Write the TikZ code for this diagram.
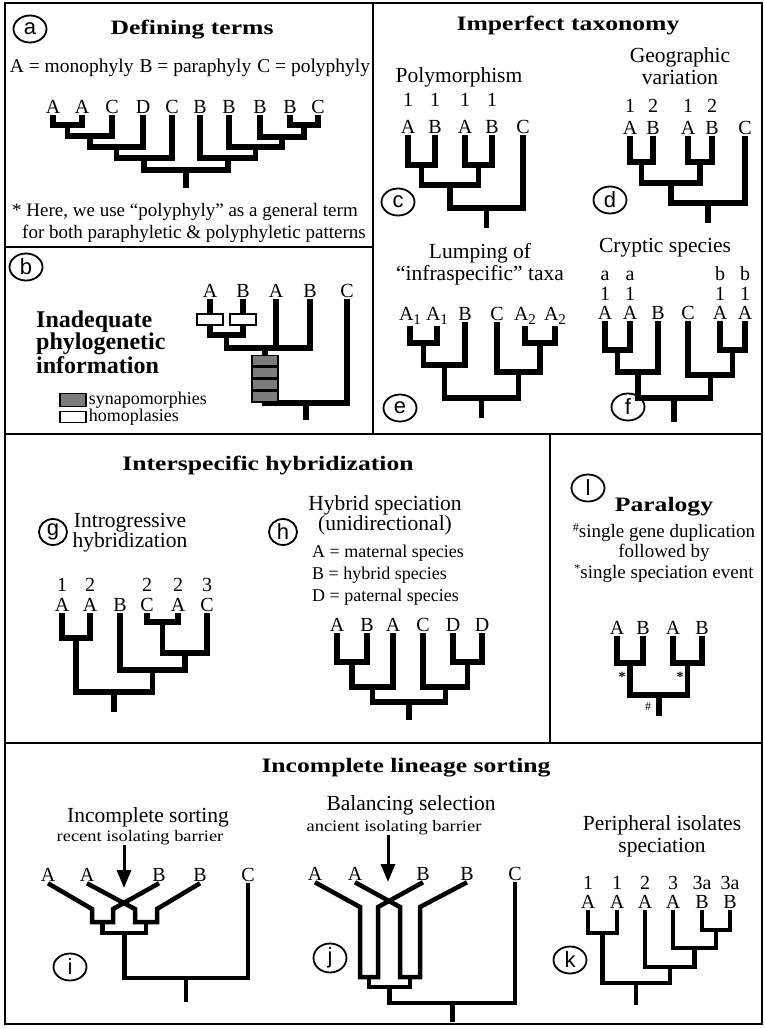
\documentclass[tikz,border=0pt]{standalone}
\usepackage{fontspec}
\setmainfont{Liberation Serif}
\setsansfont{Liberation Sans}
\usepackage{graphicx}
\usepackage{xcolor}
\usetikzlibrary{shapes.geometric, arrows.meta, positioning, calc}
\definecolor{syngray}{HTML}{7C7C7C}

\newcommand{\widen}[1]{\scalebox{1.25}[1]{#1}}
\newcommand{\lowidx}[1]{\raisebox{-4pt}{\fontsize{15}{15}\selectfont #1}}
\newcommand{\upmark}[1]{\raisebox{6pt}{\fontsize{12}{12}\selectfont #1}}

\tikzset{
  frame/.style={line width=2.2pt},
  branch/.style={line width=5.5pt},
  thinbranch/.style={line width=4.5pt},
  leaf/.style={inner sep=1.5pt, font=\fontsize{20}{22}\selectfont},
  ttl/.style={inner sep=0pt, font=\bfseries\fontsize{20.5}{22}\selectfont},
  hdr/.style={inner sep=0pt, align=center, font=\fontsize{21.5}{22}\selectfont},
  note/.style={inner sep=0pt, font=\fontsize{19}{21}\selectfont},
  plet/.style={ellipse, draw, line width=1.8pt, minimum width=33pt, minimum height=27pt, inner sep=0pt, font=\sffamily\fontsize{22}{22}\selectfont},
  homo/.style={draw, fill=white, line width=1.5pt, minimum width=26pt, minimum height=11pt, inner sep=0pt},
  syn/.style={draw, fill=syngray, line width=1.5pt, minimum width=26pt, minimum height=10.5pt, inner sep=0pt},
  barrier/.style={line width=3pt, -{Triangle[length=18pt, width=14pt]}},
  evt/.style={inner sep=0pt, font=\bfseries\fontsize{14}{14}\selectfont}
}

\begin{document}
\begin{tikzpicture}[x=1pt, y=-1pt]
\useasboundingbox (0,0) rectangle (764,1029);
% panel frames
\draw[frame] (5,3) rectangle (762,1024);
\draw[frame] (373,3) -- (373,434);
\draw[frame] (5,247) -- (373,247);
\draw[frame] (5,434) -- (762,434);
\draw[frame] (550,434) -- (550,743);
\draw[frame] (5,743) -- (762,743);

% (a) defining terms
\node[plet] (pa) at (30,29) {a};
\node[ttl] (tta) at (192,30) {\widen{Defining terms}};
\node[note, font=\fontsize{19.5}{22}\selectfont] (defs) at (190,68) {A = monophyly\hspace{6pt}B = paraphyly\hspace{6pt}C = polyphyly};
\node[leaf] (a1) at (53,107) {A};
\node[leaf] (a2) at (82,107) {A};
\node[leaf] (a3) at (112,107) {C};
\node[leaf] (a4) at (143,107) {D};
\node[leaf] (a5) at (172,107) {C};
\node[leaf] (a6) at (200,107) {B};
\node[leaf] (a7) at (229,107) {B};
\node[leaf] (a8) at (260,107) {B};
\node[leaf] (a9) at (290,107) {B};
\node[leaf] (a10) at (318,107) {C};
\coordinate (na1) at (67.5,125);
\coordinate (na2) at (90,136);
\coordinate (na3) at (116.5,147);
\coordinate (na4) at (144,158);
\coordinate (na5) at (304,125);
\coordinate (na6) at (282,137);
\coordinate (na7) at (255.5,147);
\coordinate (na8) at (228,158);
\coordinate (na9) at (186,170);
\coordinate (ra) at (186,188);
\draw[branch] (a1.south) |- (na1) -| (a2.south);
\draw[branch] (na1) |- (na2) -| (a3.south);
\draw[branch] (na2) |- (na3) -| (a4.south);
\draw[branch] (na3) |- (na4) -| (a5.south);
\draw[branch] (a9.south) |- (na5) -| (a10.south);
\draw[branch] (na5) |- (na6) -| (a8.south);
\draw[branch] (na6) |- (na7) -| (a7.south);
\draw[branch] (na7) |- (na8) -| (a6.south);
\draw[branch] (na4) |- (na9) -| (na8);
\draw[branch] (na9) -- (ra);
\node[note, anchor=west] (fna) at (12,212) {* Here, we use “polyphyly” as a general term};
\node[note, anchor=west] (fnb) at (22,234) {for both paraphyletic \& polyphyletic patterns};

% (b) inadequate information
\node[plet] (pb) at (26,267) {b};
\node[anchor=west, align=left, inner sep=0pt, font=\bfseries\fontsize{24}{21.7}\selectfont] (binfo) at (36,342) {Inadequate\\phylogenetic\\information};
\node[leaf] (b1) at (210,291) {A};
\node[leaf] (b2) at (243,291) {B};
\node[leaf] (b3) at (276,291) {A};
\node[leaf] (b4) at (310,291) {B};
\node[leaf] (b5) at (347,291) {C};
\coordinate (nb1) at (226.5,335);
\coordinate (nb2) at (265,348);
\coordinate (nb3) at (306,403);
\coordinate (rb) at (306,420);
\draw[branch] (b1.south) |- (nb1) -| (b2.south);
\draw[branch] (nb1) |- (nb2) -| (b4.south);
\draw[branch] (b3.south) -- (b3.south |- nb2);
\draw[branch] (nb2) |- (nb3) -| (b5.south);
\draw[branch] (nb3) -- (rb);
\node[homo] (hb1) at (210,319.5) {};
\node[homo] (hb2) at (243,319.5) {};
\node[syn] (s1) at (265,360.5) {};
\node[syn, below=0pt of s1] (s2) {};
\node[syn, below=0pt of s2] (s3) {};
\node[syn, below=0pt of s3] (s4) {};
\node[syn, minimum height=13pt] (lsyn) at (73,400) {};
\node[note, font=\fontsize{18}{18}\selectfont, right=2pt of lsyn] (tsyn) {synapomorphies};
\node[homo, minimum height=11pt] (lhom) at (73,417) {};
\node[note, font=\fontsize{18}{18}\selectfont, right=2pt of lhom] (thom) {homoplasies};

% (c)-(f) imperfect taxonomy
\node[ttl] (ttc) at (568,25) {\widen{Imperfect taxonomy}};
\node[hdr] (hc) at (459,77) {Polymorphism};
\node[plet] (pc) at (398,202) {c};
\node[leaf] (cn1) at (408,100) {1};
\node[leaf] (cn2) at (435,100) {1};
\node[leaf] (cn3) at (465,100) {1};
\node[leaf] (cn4) at (492,100) {1};
\node[leaf] (c1) at (408,127) {A};
\node[leaf] (c2) at (435,127) {B};
\node[leaf] (c3) at (465,127) {A};
\node[leaf] (c4) at (492,127) {B};
\node[leaf] (c5) at (523,127) {C};
\coordinate (nc1) at (421.5,165);
\coordinate (nc2) at (478.5,165);
\coordinate (nc3) at (450,185);
\coordinate (nc4) at (486.5,208);
\coordinate (rc) at (486.5,228);
\draw[branch] (c1.south) |- (nc1) -| (c2.south);
\draw[branch] (c3.south) |- (nc2) -| (c4.south);
\draw[branch] (nc1) |- (nc3) -| (nc2);
\draw[branch] (nc3) |- (nc4) -| (c5.south);
\draw[branch] (nc4) -- (rc);

\node[hdr] (hd) at (680,66) {Geographic\\variation};
\node[plet] (pd) at (610,200) {d};
\node[leaf] (dn1) at (630,106) {1};
\node[leaf] (dn2) at (653,106) {2};
\node[leaf] (dn3) at (688,106) {1};
\node[leaf] (dn4) at (712,106) {2};
\node[leaf] (d1) at (630,128) {A};
\node[leaf] (d2) at (653,128) {B};
\node[leaf] (d3) at (688,128) {A};
\node[leaf] (d4) at (712,128) {B};
\node[leaf] (d5) at (745,128) {C};
\coordinate (nd1) at (641.5,162);
\coordinate (nd2) at (700,162);
\coordinate (nd3) at (670.75,183);
\coordinate (nd4) at (707.9,203);
\coordinate (rd) at (707.9,223);
\draw[branch] (d1.south) |- (nd1) -| (d2.south);
\draw[branch] (d3.south) |- (nd2) -| (d4.south);
\draw[branch] (nd1) |- (nd3) -| (nd2);
\draw[branch] (nd3) |- (nd4) -| (d5.south);
\draw[branch] (nd4) -- (rd);

\node[hdr] (he) at (480,264) {Lumping of\\“infraspecific” taxa};
\node[plet] (pe) at (400,408) {e};
\node[leaf, anchor=base] (e1) at (410,320) {A\lowidx{1}};
\node[leaf, anchor=base] (e2) at (437,320) {A\lowidx{1}};
\node[leaf, anchor=base] (e3) at (465,320) {B};
\node[leaf, anchor=base] (e4) at (497,320) {C};
\node[leaf, anchor=base] (e5) at (525,320) {A\lowidx{2}};
\node[leaf, anchor=base] (e6) at (555,320) {A\lowidx{2}};
\coordinate (ne1) at (423.5,343);
\coordinate (ne2) at (444.25,365);
\coordinate (ne3) at (540,343);
\coordinate (ne4) at (518.5,372);
\coordinate (ne5) at (481.4,398);
\coordinate (re) at (481.4,418);
\draw[branch] (e1.south) |- (ne1) -| (e2.south);
\draw[branch] (ne1) |- (ne2) -| (e3.south);
\draw[branch] (e5.south) |- (ne3) -| (e6.south);
\draw[branch] (e4.south) |- (ne4) -| (ne3);
\draw[branch] (ne2) |- (ne5) -| (ne4);
\draw[branch] (ne5) -- (re);

\node[hdr] (hf) at (665,248) {Cryptic species};
\node[plet] (pf) at (628,407) {f};
\node[leaf, anchor=base, inner sep=0pt] (fa1) at (605,280) {a};
\node[leaf, anchor=base, inner sep=0pt] (fa2) at (630,280) {a};
\node[leaf, anchor=base, inner sep=0pt] (fb1) at (720,280) {b};
\node[leaf, anchor=base, inner sep=0pt] (fb2) at (745,280) {b};
\node[leaf, inner sep=0pt] (fn1) at (605,294) {1};
\node[leaf, inner sep=0pt] (fn2) at (630,294) {1};
\node[leaf, inner sep=0pt] (fn3) at (720,294) {1};
\node[leaf, inner sep=0pt] (fn4) at (745,294) {1};
\node[leaf] (f1) at (605,313) {A};
\node[leaf] (f2) at (630,313) {A};
\node[leaf] (f3) at (658,313) {B};
\node[leaf] (f4) at (688,313) {C};
\node[leaf] (f5) at (720,313) {A};
\node[leaf] (f6) at (745,313) {A};
\coordinate (nf1) at (617.5,350);
\coordinate (nf2) at (637.75,372);
\coordinate (nf3) at (732.5,350);
\coordinate (nf4) at (710.25,375);
\coordinate (nf5) at (674,398);
\coordinate (rf) at (674,422);
\draw[branch] (f1.south) |- (nf1) -| (f2.south);
\draw[branch] (nf1) |- (nf2) -| (f3.south);
\draw[branch] (f5.south) |- (nf3) -| (f6.south);
\draw[branch] (f4.south) |- (nf4) -| (nf3);
\draw[branch] (nf2) |- (nf5) -| (nf4);
\draw[branch] (nf5) -- (rf);

% (g),(h) interspecific hybridization
\node[ttl] (ttg) at (268,465) {\widen{Interspecific hybridization}};
\node[plet, minimum width=28pt, minimum height=26pt] (pg) at (53,532) {g};
\node[hdr, font=\fontsize{21.5}{20}\selectfont] (hg) at (130,533) {Introgressive\\hybridization};
\node[leaf] (gn1) at (62,585) {1};
\node[leaf] (gn2) at (90,585) {2};
\node[leaf] (gn3) at (147,585) {2};
\node[leaf] (gn4) at (178,585) {2};
\node[leaf] (gn5) at (207,585) {3};
\node[leaf] (g1) at (62,605) {A};
\node[leaf] (g2) at (90,605) {A};
\node[leaf] (g3) at (120,605) {B};
\node[leaf] (g4) at (147,605) {C};
\node[leaf] (g5) at (178,605) {A};
\node[leaf] (g6) at (207,605) {C};
\coordinate (ng1) at (76,638);
\coordinate (ng2) at (162.5,622);
\coordinate (ng3) at (184.75,653);
\coordinate (ng4) at (152.4,670);
\coordinate (ng5) at (114.2,692);
\coordinate (rg) at (114.2,712);
\draw[branch] (g1.south) |- (ng1) -| (g2.south);
\draw[branch] (g4.south) |- (ng2) -| (g5.south);
\draw[branch] (ng2) |- (ng3) -| (g6.south);
\draw[branch] (g3.south) |- (ng4) -| (ng3);
\draw[branch] (ng1) |- (ng5) -| (ng4);
\draw[branch] (ng5) -- (rg);

\node[plet, minimum width=28pt, minimum height=26pt] (ph) at (283,532) {h};
\node[hdr, font=\fontsize{21.5}{20}\selectfont] (hh) at (385,515) {Hybrid speciation\\(unidirectional)};
\node[note, anchor=west, align=left, font=\fontsize{18}{22}\selectfont] (hdefs) at (312,575) {A = maternal species\\B = hybrid species\\D = paternal species};
\node[leaf] (h1) at (337,625) {A};
\node[leaf] (h2) at (367,625) {B};
\node[leaf] (h3) at (393,625) {A};
\node[leaf] (h4) at (423,625) {C};
\node[leaf] (h5) at (453,625) {D};
\node[leaf] (h6) at (482,625) {D};
\coordinate (nh1) at (352,662);
\coordinate (nh2) at (372.5,687);
\coordinate (nh3) at (467.5,662);
\coordinate (nh4) at (445.25,687);
\coordinate (nh5) at (408.9,702);
\coordinate (rh) at (408.9,720);
\draw[branch] (h1.south) |- (nh1) -| (h2.south);
\draw[branch] (nh1) |- (nh2) -| (h3.south);
\draw[branch] (h5.south) |- (nh3) -| (h6.south);
\draw[branch] (h4.south) |- (nh4) -| (nh3);
\draw[branch] (nh2) |- (nh5) -| (nh4);
\draw[branch] (nh5) -- (rh);

% (l) paralogy
\node[plet] (pl) at (588,488) {l};
\node[ttl] (tl) at (664,507) {\widen{Paralogy}};
\node[note, align=center, font=\fontsize{19}{20.5}\selectfont] (lnote) at (664,553) {\upmark{\#}single gene duplication\\followed by\\\upmark{*}single speciation event};
\node[leaf] (l1) at (617,628) {A};
\node[leaf] (l2) at (643,628) {B};
\node[leaf] (l3) at (673,628) {A};
\node[leaf] (l4) at (702,628) {B};
\coordinate (nl1) at (630,663);
\coordinate (nl2) at (687.5,663);
\coordinate (nl3) at (658.75,695);
\coordinate (rl) at (658.75,716);
\draw[branch] (l1.south) |- (nl1) -| (l2.south);
\draw[branch] (l3.south) |- (nl2) -| (l4.south);
\draw[branch] (nl1) |- (nl3) -| (nl2);
\draw[branch] (nl3) -- (rl);
\node[evt] (sp1) at (622,677) {*};
\node[evt] (sp2) at (680,677) {*};
\node[evt, font=\fontsize{12}{12}\selectfont] (dup) at (648,707) {\#};

% (i)-(k) incomplete lineage sorting
\node[ttl] (tti) at (406,768) {\widen{Incomplete lineage sorting}};
\node[hdr] (hi) at (148,817) {Incomplete sorting};
\node[inner sep=0pt, font=\fontsize{16}{18}\selectfont] (ri) at (140,838) {\scalebox{1.15}[1]{recent isolating barrier}};
\coordinate (ai) at (124,888);
\draw[barrier] (ri.south -| ai) -- (ai);
\node[plet] (pi) at (70,967) {i};
\node[leaf] (i1) at (48,875) {A};
\node[leaf] (i2) at (87,875) {A};
\node[leaf] (i3) at (159,875) {B};
\node[leaf] (i4) at (200,875) {B};
\node[leaf] (i5) at (248,875) {C};
\coordinate (ci1) at (92,909);
\coordinate (ci2) at (113,909);
\coordinate (ci3) at (135,909);
\coordinate (ci4) at (157,909);
\coordinate (ni1) at (102.5,922);
\coordinate (ni2) at (146,922);
\coordinate (ni3) at (124.25,933);
\coordinate (ni4) at (186.1,978);
\coordinate (rti) at (186.1,1002);
\draw[thinbranch] (i1.south) -- (ci1) |- (ni1) -| (ci2) -- (i3.south);
\draw[thinbranch] (i2.south) -- (ci3) |- (ni2) -| (ci4) -- (i4.south);
\draw[thinbranch] (ni1) |- (ni3) -| (ni2);
\draw[thinbranch] (ni3) |- (ni4) -| (i5.south);
\draw[thinbranch] (ni4) -- (rti);

\node[hdr] (hj) at (411,805) {Balancing selection};
\node[inner sep=0pt, font=\fontsize{16}{18}\selectfont] (rj0) at (394,828) {\scalebox{1.15}[1]{ancient isolating barrier}};
\coordinate (aj) at (388,882);
\draw[barrier] (rj0.south -| aj) -- (aj);
\node[plet] (pj) at (330,958) {j};
\node[leaf] (j1) at (315,874) {A};
\node[leaf] (j2) at (355,874) {A};
\node[leaf] (j3) at (423,874) {B};
\node[leaf] (j4) at (467,874) {B};
\node[leaf] (j5) at (515,874) {C};
\coordinate (cj1) at (360,907);
\coordinate (cj2) at (378,907);
\coordinate (cj3) at (400,907);
\coordinate (cj4) at (420,907);
\coordinate (nj1) at (369,977);
\coordinate (nj2) at (410,977);
\coordinate (nj3) at (389.5,987);
\coordinate (nj4) at (452.25,1003);
\coordinate (rj) at (452.25,1022);
\draw[thinbranch] (j1.south) -- (cj1) |- (nj1) -| (cj2) -- (j3.south);
\draw[thinbranch] (j2.south) -- (cj3) |- (nj2) -| (cj4) -- (j4.south);
\draw[thinbranch] (nj1) |- (nj3) -| (nj2);
\draw[thinbranch] (nj3) |- (nj4) -| (j5.south);
\draw[thinbranch] (nj4) -- (rj);

\node[hdr] (hk) at (662,836) {Peripheral isolates\\speciation};
\node[plet] (pk) at (570,960) {k};
\node[leaf] (kn1) at (588,883) {1};
\node[leaf] (kn2) at (617,883) {1};
\node[leaf] (kn3) at (645,883) {2};
\node[leaf] (kn4) at (673,883) {3};
\node[leaf] (kn5) at (702,883) {3a};
\node[leaf] (kn6) at (730,883) {3a};
\node[leaf] (k1) at (588,902) {A};
\node[leaf] (k2) at (617,902) {A};
\node[leaf] (k3) at (645,902) {A};
\node[leaf] (k4) at (673,902) {A};
\node[leaf] (k5) at (702,902) {B};
\node[leaf] (k6) at (730,902) {B};
\coordinate (nk1) at (602.5,933);
\coordinate (nk2) at (716,930);
\coordinate (nk3) at (694.5,948);
\coordinate (nk4) at (669.75,967);
\coordinate (nk5) at (636.1,983);
\coordinate (rk) at (636.1,1005);
\draw[thinbranch] (k1.south) |- (nk1) -| (k2.south);
\draw[thinbranch] (k5.south) |- (nk2) -| (k6.south);
\draw[thinbranch] (k4.south) |- (nk3) -| (nk2);
\draw[thinbranch] (k3.south) |- (nk4) -| (nk3);
\draw[thinbranch] (nk1) |- (nk5) -| (nk4);
\draw[thinbranch] (nk5) -- (rk);
\end{tikzpicture}
\end{document}
